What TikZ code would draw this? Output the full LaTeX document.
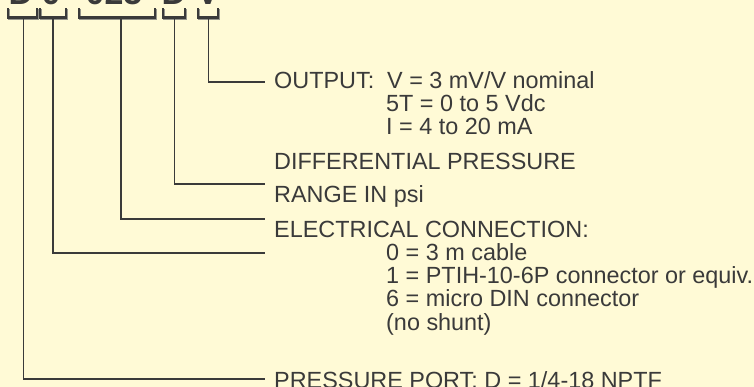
\documentclass[tikz,border=0pt]{standalone}
\usepackage{fontspec}
\setmainfont{Liberation Sans}
\definecolor{bg}{RGB}{255,250,214}
\definecolor{ink}{RGB}{58,58,58}
\definecolor{shade}{RGB}{150,150,140}
\begin{document}
\begin{tikzpicture}[x=1pt,y=-1pt,
  lbl/.style={anchor=base west, inner sep=0pt, text=ink, font=\fontsize{23.4}{23.4}\selectfont},
  codech/.style={anchor=base, inner sep=0pt, text=ink, font=\fontsize{34}{34}\selectfont\bfseries},
  brk/.style={draw=ink, line width=2.6pt, line cap=rect},
  brkshadow/.style={draw=shade, line width=2.6pt, line cap=rect},
  lead/.style={draw=ink, line width=1.3pt}]
\fill[bg] (0,0) rectangle (754,387);
\useasboundingbox (0,0) rectangle (754,387);
\clip (0,0) rectangle (754,387);

% clipped code letters (cut off at the top edge, as in the reference)
\node[codech] (c1) at (21,5) {D};
\node[codech] (c2) at (51,5) {0};
\node[codech] (c3) at (114,5) {025};
\node[codech] (c4) at (174,5) {D};
\node[codech] (c5) at (208,5) {V};

% brackets
\foreach \a/\b in {8/37, 40/66, 79/155, 163/185, 198/218}{
  \draw[brkshadow] (\a+1,10) -- (\a+1,18.5) -- (\b+1,18.5) -- (\b+1,10);
  \draw[brk] (\a,9) -- (\a,17.5) -- (\b,17.5) -- (\b,9);
}

% bracket connection points
\coordinate (b1) at (23.5,18.5);
\coordinate (b2) at (53,18.5);
\coordinate (b3) at (121,18.5);
\coordinate (b4) at (174.5,18.5);
\coordinate (b5) at (208.5,18.5);

% leader ends
\coordinate (e5) at (265,82);
\coordinate (e4) at (265,184);
\coordinate (e3) at (265,219);
\coordinate (e2) at (265,253);
\coordinate (e1) at (265,379);

% labels
\node[lbl] (out) at (274,88.5) {OUTPUT:};
\node[lbl] (out1) at (387,88.5) {V = 3 mV/V nominal};
\node[lbl] (out2) at (386,111.8) {5T = 0 to 5 Vdc};
\node[lbl] (out3) at (386,135) {I = 4 to 20 mA};
\node[lbl] (diff) at (274,169.5) {DIFFERENTIAL PRESSURE};
\node[lbl] (rng) at (274,202.8) {RANGE IN psi};
\node[lbl] (elec) at (274,237) {ELECTRICAL CONNECTION:};
\node[lbl] (el0) at (386,260.3) {0 = 3 m cable};
\node[lbl] (el1) at (386,283.6) {1 = PTIH-10-6P connector or equiv.};
\node[lbl] (el6) at (386,306.9) {6 = micro DIN connector};
\node[lbl] (elns) at (386,330.2) {(no shunt)};
\node[lbl] (port) at (274,388) {PRESSURE PORT: D = 1/4-18 NPTF};

% connectors
\draw[lead] (b5) |- (e5);
\draw[lead] (b4) |- (e4);
\draw[lead] (b3) |- (e3);
\draw[lead] (b2) |- (e2);
\draw[lead] (b1) |- (e1);
\end{tikzpicture}
\end{document}
